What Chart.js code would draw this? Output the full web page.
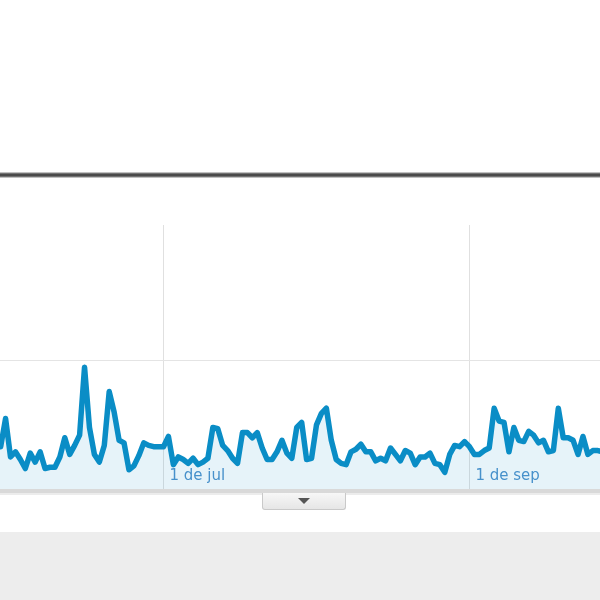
<!DOCTYPE html>
<html>
<head>
<meta charset="utf-8">
<script src="https://cdn.jsdelivr.net/npm/chart.js@4"></script>
<style>
  html, body { margin: 0; padding: 0; background: #fff; }
  body { width: 600px; height: 600px; position: relative; overflow: hidden; }
  .topline { position: absolute; left: 0; top: 172px; width: 600px; height: 6px;
    background: linear-gradient(#e8e8e8 0, #9a9a9a 1px, #4a4a4a 2px, #4a4a4a 4px, #9a9a9a 5px, #e8e8e8 6px); }
  #wrap { position: absolute; left: 0; top: 225px; width: 600px; height: 272px; }
  .baseline { position: absolute; left: 0; top: 489px; width: 600px; height: 4px; background: #d9d9d9; }
  .baseline2 { position: absolute; left: 0; top: 493px; width: 600px; height: 2px; background: #ececec; }
  .tab { position: absolute; left: 262px; top: 493px; width: 82px; height: 16px;
    background: linear-gradient(#f7f7f7, #e6e6e6); border: 1px solid #c9c9c9; border-top: none;
    border-radius: 0 0 3px 3px; }
  .arrow { position: absolute; left: 35px; top: 5px; width: 0; height: 0;
    border-left: 6px solid transparent; border-right: 6px solid transparent; border-top: 6px solid #555; }
  .band { position: absolute; left: 0; top: 532px; width: 600px; height: 68px; background: #ededed; }
</style>
</head>
<body>
<div class="topline"></div>
<div id="wrap"><canvas id="myChart" width="600" height="272"></canvas></div>
<div class="baseline"></div>
<div class="baseline2"></div>
<div class="tab"><div class="arrow"></div></div>
<div class="band"></div>
<script>
// daily visits, first value is 28 May (day -34 counted from 1 Jul)
const firstDay = -34;
const visits = [
  33, 33, 55, 25, 29, 23, 16, 28, 21, 29, 16, 17, 17, 25, 40, 27, 34, 42, 95, 48,
  27, 21, 34, 76, 60, 38, 36, 15, 18, 26, 36, 34, 33, 33,
  33, 41, 19, 25, 23, 20, 24, 19, 21, 24, 48, 47, 34, 30, 24, 20, 44, 44, 40, 44,
  32, 23, 23, 29, 38, 28, 24, 48, 52, 23, 24, 50, 59, 63, 38, 23, 20, 19, 29, 31,
  35, 29, 29, 22, 24, 22, 32, 27, 22, 30, 28, 19, 25, 25, 28, 20, 19, 13, 27, 34,
  33, 37, 33, 27, 27, 30, 32, 63, 53, 52, 29, 48, 38, 37, 45, 42, 36, 38, 29, 30,
  63, 40, 40, 38, 27, 41, 27, 30, 30, 29
];
const tickDays = [0, 62];
const tickLabels = ["1 de jul", "1 de sep"];

const points = visits.map((v, i) => ({ x: firstDay + i, y: v }));

const config = {
  type: 'line',
  data: {
    datasets: [{
      label: 'Visitas',
      data: points,
      borderColor: '#0a8dc6',
      backgroundColor: 'rgba(5,141,199,0.1)',
      borderWidth: 5.5,
      fill: 'origin',
      pointRadius: 0,
      tension: 0,
      borderJoinStyle: 'round',
      borderCapStyle: 'round'
    }]
  },
  options: {
    responsive: false,
    animation: false,
    layout: { padding: 0 },
    plugins: { legend: { display: false }, tooltip: { enabled: false } },
    scales: {
      x: {
        type: 'linear',
        min: -33.13,
        max: 88.45,
        afterBuildTicks: scale => { scale.ticks = tickDays.map(d => ({ value: d })); },
        grid: { color: '#e0e0e0', lineWidth: 1, drawTicks: false },
        border: { display: false },
        ticks: {
          mirror: true,
          padding: 4,
          align: 'start',
          labelOffset: 6,
          maxRotation: 0,
          color: '#4f92cc',
          font: { family: 'DejaVu Sans', size: 15 },
          callback: value => tickLabels[tickDays.indexOf(value)]
        }
      },
      y: {
        min: 0,
        max: 206,
        afterBuildTicks: scale => { scale.ticks = [{ value: 100 }]; },
        grid: { color: '#e4e4e4', lineWidth: 1, drawTicks: false },
        border: { display: false },
        ticks: { display: false }
      }
    }
  }
};

new Chart(document.getElementById('myChart').getContext('2d'), config);
</script>
</body>
</html>
